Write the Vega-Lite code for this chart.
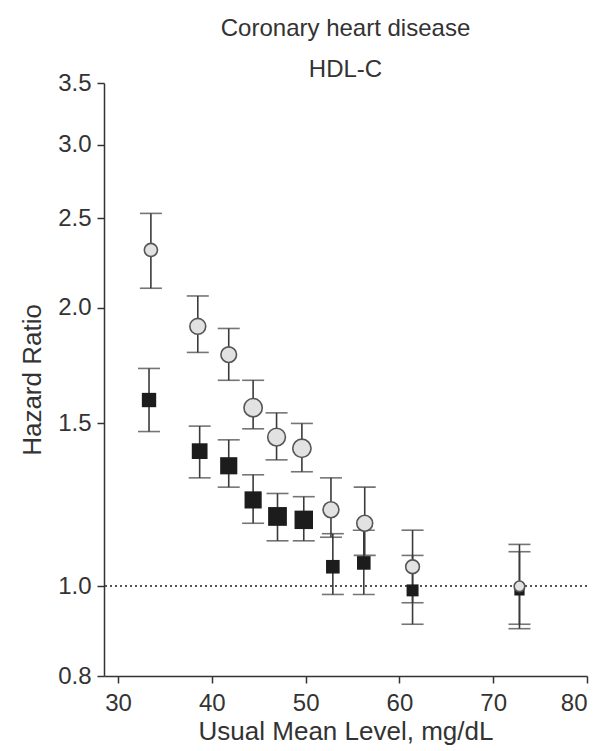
{
  "$schema": "https://vega.github.io/schema/vega-lite/v6.json",
  "width": 483,
  "height": 593,
  "autosize": {"type": "none"},
  "padding": {"left": 104, "top": 83, "right": 15, "bottom": 75},
  "background": "white",
  "title": {
    "text": "Coronary heart disease",
    "subtitle": "HDL-C",
    "anchor": "middle",
    "offset": -11,
    "subtitlePadding": 17
  },
  "config": {
    "font": "Liberation Sans",
    "view": {"stroke": null},
    "title": {"font": "Liberation Sans", "fontSize": 24, "fontWeight": "normal", "color": "#333333", "subtitleFontSize": 24, "subtitleColor": "#333333", "subtitleFont": "Liberation Sans"},
    "axis": {
      "grid": false,
      "domainColor": "#333333",
      "domainWidth": 1.5,
      "tickColor": "#333333",
      "tickWidth": 1.5,
      "tickSize": 7,
      "labelFontSize": 24,
      "labelColor": "#333333",
      "titleFontSize": 26,
      "titleFontWeight": "normal",
      "titleColor": "#333333",
      "labelPadding": 6
    }
  },
  "data": {
    "values": [
      {"series": "Adjusted for age and sex", "x": 33.5, "hr": 2.31, "lo": 2.10, "hi": 2.53, "w": 41},
      {"series": "Adjusted for age and sex", "x": 38.5, "hr": 1.91, "lo": 1.79, "hi": 2.06, "w": 60},
      {"series": "Adjusted for age and sex", "x": 41.8, "hr": 1.78, "lo": 1.67, "hi": 1.90, "w": 58},
      {"series": "Adjusted for age and sex", "x": 44.4, "hr": 1.56, "lo": 1.48, "hi": 1.67, "w": 80},
      {"series": "Adjusted for age and sex", "x": 46.9, "hr": 1.45, "lo": 1.37, "hi": 1.54, "w": 75},
      {"series": "Adjusted for age and sex", "x": 49.6, "hr": 1.41, "lo": 1.33, "hi": 1.50, "w": 80},
      {"series": "Adjusted for age and sex", "x": 52.7, "hr": 1.21, "lo": 1.13, "hi": 1.31, "w": 60},
      {"series": "Adjusted for age and sex", "x": 56.3, "hr": 1.17, "lo": 1.08, "hi": 1.28, "w": 60},
      {"series": "Adjusted for age and sex", "x": 61.4, "hr": 1.05, "lo": 0.96, "hi": 1.15, "w": 45},
      {"series": "Adjusted for age and sex", "x": 72.8, "hr": 1.00, "lo": 0.90, "hi": 1.11, "w": 27},
      {"series": "Further adjusted", "x": 33.3, "hr": 1.59, "lo": 1.47, "hi": 1.72, "w": 49},
      {"series": "Further adjusted", "x": 38.7, "hr": 1.40, "lo": 1.31, "hi": 1.49, "w": 59},
      {"series": "Further adjusted", "x": 41.8, "hr": 1.35, "lo": 1.28, "hi": 1.44, "w": 70},
      {"series": "Further adjusted", "x": 44.4, "hr": 1.24, "lo": 1.17, "hi": 1.32, "w": 70},
      {"series": "Further adjusted", "x": 47.0, "hr": 1.19, "lo": 1.12, "hi": 1.26, "w": 84},
      {"series": "Further adjusted", "x": 49.8, "hr": 1.18, "lo": 1.12, "hi": 1.25, "w": 81},
      {"series": "Further adjusted", "x": 52.9, "hr": 1.05, "lo": 0.98, "hi": 1.14, "w": 44},
      {"series": "Further adjusted", "x": 56.2, "hr": 1.06, "lo": 0.98, "hi": 1.15, "w": 44},
      {"series": "Further adjusted", "x": 61.4, "hr": 0.99, "lo": 0.91, "hi": 1.08, "w": 34},
      {"series": "Further adjusted", "x": 72.8, "hr": 0.99, "lo": 0.91, "hi": 1.09, "w": 25}
    ]
  },
  "encoding": {
    "x": {
      "field": "x",
      "type": "quantitative",
      "scale": {"domain": [28.5, 80], "nice": false, "zero": false},
      "axis": {"values": [30, 40, 50, 60, 70, 80], "title": "Usual Mean Level, mg/dL", "titlePadding": 3, "labelPadding": 8}
    }
  },
  "layer": [
    {
      "mark": {"type": "rule", "strokeDash": [2, 3], "color": "#555555", "strokeWidth": 1.2},
      "encoding": {"y": {"datum": 1, "type": "quantitative"}, "x": null}
    },
    {
      "mark": {"type": "rule", "color": "#3a3a3a", "strokeWidth": 1.6},
      "encoding": {
        "y": {
          "field": "lo",
          "type": "quantitative",
          "scale": {"type": "log", "domain": [0.8, 3.5], "nice": false, "zero": false},
          "axis": {"values": [0.8, 1.0, 1.5, 2.0, 2.5, 3.0, 3.5], "format": ".1f", "title": "Hazard Ratio", "titlePadding": 12}
        },
        "y2": {"field": "hi"}
      }
    },
    {
      "mark": {"type": "tick", "orient": "horizontal", "size": 22, "thickness": 1.6, "color": "#3a3a3a"},
      "encoding": {"y": {"field": "hi", "type": "quantitative"}}
    },
    {
      "mark": {"type": "tick", "orient": "horizontal", "size": 22, "thickness": 1.6, "color": "#3a3a3a"},
      "encoding": {"y": {"field": "lo", "type": "quantitative"}}
    },
    {
      "transform": [{"filter": "datum.series === 'Further adjusted'"}],
      "mark": {"type": "point", "shape": "square", "filled": true, "color": "#1c1c1c", "opacity": 1},
      "encoding": {
        "y": {"field": "hr", "type": "quantitative"},
        "size": {"field": "w", "type": "quantitative", "scale": {"domain": [0, 100], "range": [0, 420]}, "legend": null}
      }
    },
    {
      "transform": [{"filter": "datum.series === 'Adjusted for age and sex'"}],
      "mark": {"type": "point", "shape": "circle", "filled": true, "fill": "#e2e2e2", "stroke": "#555555", "strokeWidth": 1.6, "opacity": 1},
      "encoding": {
        "y": {"field": "hr", "type": "quantitative"},
        "size": {"field": "w", "type": "quantitative", "scale": {"domain": [0, 100], "range": [0, 420]}, "legend": null}
      }
    }
  ]
}
